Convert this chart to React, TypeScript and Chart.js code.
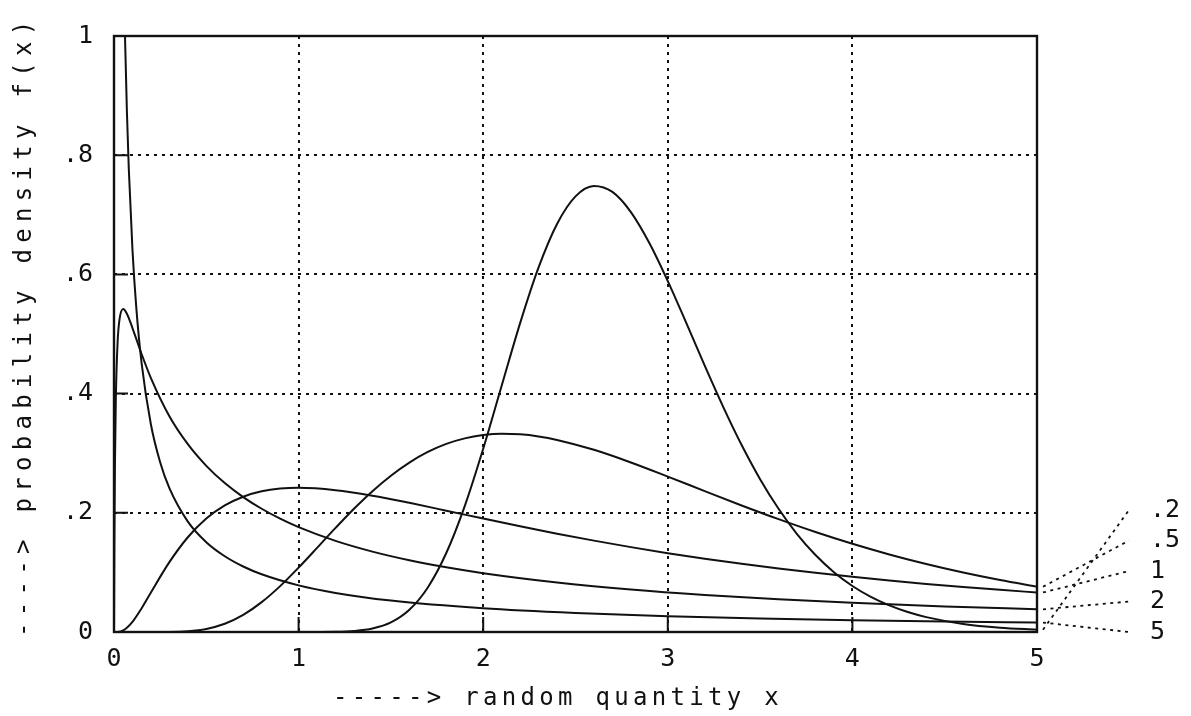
import React, { useEffect, useRef } from "react";
import { Chart, registerables } from "chart.js";

Chart.register(...registerables);

// Right-hand curve labels (shape parameter), top to bottom
const sigmaLabels = [".2", ".5", "1", "2", "5"];

// Curve ".2"
const xA = [0, 1.0, 1.2, 1.3, 1.4, 1.5, 1.6, 1.7, 1.8, 1.9, 2.0, 2.1, 2.2, 2.3, 2.4, 2.5, 2.6, 2.7, 2.8, 2.9, 3.0, 3.1, 3.2, 3.3, 3.4, 3.5, 3.6, 3.7, 3.8, 3.9, 4.0, 4.1, 4.2, 4.3, 4.4, 4.6, 4.8, 5.0];
const yA = [0, 0, 0.0004, 0.0017, 0.0058, 0.016, 0.0372, 0.0747, 0.1325, 0.2113, 0.3074, 0.4131, 0.5183, 0.6118, 0.6847, 0.731, 0.7485, 0.7384, 0.7046, 0.6527, 0.5888, 0.5186, 0.4469, 0.3778, 0.3137, 0.2564, 0.2067, 0.1643, 0.1291, 0.1003, 0.0772, 0.0589, 0.0446, 0.0335, 0.025, 0.0136, 0.0073, 0.0039];

// Curve ".5"
const xB = [0, 0.3, 0.4, 0.5, 0.6, 0.7, 0.8, 0.9, 1.0, 1.1, 1.2, 1.3, 1.4, 1.5, 1.6, 1.7, 1.8, 1.9, 2.0, 2.1, 2.2, 2.3, 2.4, 2.6, 2.8, 3.0, 3.2, 3.4, 3.6, 3.8, 4.0, 4.2, 4.4, 4.6, 4.8, 5.0];
const yB = [0, 0.0002, 0.0013, 0.0052, 0.0138, 0.0287, 0.0501, 0.077, 0.108, 0.1411, 0.1746, 0.2068, 0.2363, 0.2623, 0.2843, 0.3021, 0.3156, 0.3249, 0.3304, 0.3326, 0.3316, 0.3281, 0.3223, 0.3057, 0.2845, 0.2608, 0.2364, 0.2123, 0.1893, 0.1677, 0.148, 0.1301, 0.114, 0.0997, 0.0871, 0.0759];

// Curve "1"
const xC = [0, 0.02, 0.05, 0.1, 0.15, 0.2, 0.3, 0.4, 0.5, 0.6, 0.7, 0.8, 0.9, 1.0, 1.2, 1.4, 1.6, 1.8, 2.0, 2.2, 2.4, 2.6, 2.8, 3.0, 3.2, 3.4, 3.6, 3.8, 4.0, 4.2, 4.4, 4.6, 4.8, 5.0];
const yC = [0, 0.0001, 0.0027, 0.0171, 0.04, 0.0663, 0.1172, 0.159, 0.1903, 0.2124, 0.227, 0.236, 0.2406, 0.242, 0.238, 0.2287, 0.2167, 0.2036, 0.1903, 0.1773, 0.1649, 0.1533, 0.1424, 0.1323, 0.123, 0.1144, 0.1065, 0.0993, 0.0926, 0.0864, 0.0807, 0.0755, 0.0707, 0.0663];

// Curve "2"
const xD = [0, 0.0005, 0.001, 0.002, 0.005, 0.01, 0.02, 0.03, 0.05, 0.07, 0.1, 0.15, 0.2, 0.3, 0.4, 0.5, 0.6, 0.7, 0.8, 0.9, 1.0, 1.2, 1.4, 1.6, 1.8, 2.0, 2.4, 2.8, 3.2, 3.6, 4.0, 4.5, 5.0];
const yD = [0, 0.0385, 0.08, 0.149, 0.28, 0.393, 0.489, 0.525, 0.542, 0.534, 0.51, 0.466, 0.426, 0.362, 0.3151, 0.2788, 0.2499, 0.2264, 0.2068, 0.1902, 0.176, 0.1529, 0.1349, 0.1204, 0.1085, 0.0986, 0.083, 0.0712, 0.0621, 0.0549, 0.0489, 0.0429, 0.0381];

// Curve "5"
const xE = [0, 0.001, 0.01, 0.02, 0.03, 0.04, 0.05, 0.06, 0.07, 0.08, 0.1, 0.12, 0.15, 0.2, 0.25, 0.3, 0.4, 0.5, 0.6, 0.7, 0.8, 1.0, 1.2, 1.5, 2.0, 2.5, 3.0, 3.5, 4.0, 4.5, 5.0];
const yE = [0, 22.9, 4.257, 2.462, 1.772, 1.397, 1.16, 0.994, 0.872, 0.778, 0.6415, 0.5473, 0.4497, 0.3482, 0.2848, 0.2413, 0.1853, 0.1507, 0.1271, 0.1099, 0.0968, 0.0782, 0.0656, 0.0528, 0.0398, 0.0319, 0.0266, 0.0228, 0.0199, 0.0176, 0.0158];

const xTickValues = [0, 1, 2, 3, 4, 5];
const xTickLabels = ["0", "1", "2", "3", "4", "5"];
const yTickValues = [0, 0.2, 0.4, 0.6, 0.8, 1];
const yTickLabels = ["0", ".2", ".4", ".6", ".8", "1"];

const xTitle = "-----> random quantity x";
const yTitle = "----> probability density f(x)";

const INK = "#111111";
const FONT = '"DejaVu Sans Mono", "Liberation Mono", monospace';

const seriesX = [xA, xB, xC, xD, xE];
const seriesY = [yA, yB, yC, yD, yE];

const decor = {
  id: "decor",
  afterDatasetsDraw(chart: any) {
    const { ctx, chartArea: a, scales } = chart;
    const xs = scales.x;
    const ys = scales.y;
    ctx.save();
    ctx.strokeStyle = INK;
    ctx.fillStyle = INK;
    ctx.setLineDash([]);
    ctx.lineWidth = 2.4;
    ctx.strokeRect(a.left, a.top, a.right - a.left, a.bottom - a.top);

    // short solid inner ticks
    ctx.lineWidth = 2;
    ctx.beginPath();
    xTickValues.forEach((v) => {
      const px = xs.getPixelForValue(v);
      ctx.moveTo(px, a.bottom);
      ctx.lineTo(px, a.bottom - 15);
    });
    yTickValues.forEach((v) => {
      const py = ys.getPixelForValue(v);
      ctx.moveTo(a.left, py);
      ctx.lineTo(a.left + 14, py);
    });
    ctx.stroke();

    // leader lines and curve labels
    ctx.font = `25px ${FONT}`;
    ctx.textAlign = "left";
    ctx.textBaseline = "middle";
    chart.data.datasets.forEach((ds: any, i: number) => {
      const last = ds.data[ds.data.length - 1];
      const y0 = ys.getPixelForValue(last.y);
      const ly = a.bottom - (sigmaLabels.length - 1 - i) * 30.5;
      ctx.lineWidth = 1.8;
      ctx.setLineDash([3, 4.5]);
      ctx.beginPath();
      ctx.moveTo(a.right + 6, y0);
      ctx.lineTo(a.right + 92, ly);
      ctx.stroke();
      ctx.setLineDash([]);
      ctx.fillText(sigmaLabels[i], a.right + 113, ly);
    });

    // axis titles
    ctx.font = `24px ${FONT}`;
    (ctx as any).letterSpacing = "4.3px";
    ctx.textAlign = "left";
    ctx.textBaseline = "middle";
    ctx.fillText(xTitle, a.left + 219, a.bottom + 67);

    ctx.save();
    (ctx as any).letterSpacing = "6.3px";
    ctx.translate(25, a.bottom + 5);
    ctx.rotate(-Math.PI / 2);
    ctx.fillText(yTitle, 0, 0);
    ctx.restore();

    ctx.restore();
  },
};

export default function App() {
  const ref = useRef<HTMLCanvasElement | null>(null);

  useEffect(() => {
    if (!ref.current) return;
    const datasets = seriesX.map((xsArr, i) => ({
      label: sigmaLabels[i],
      data: xsArr.map((x, j) => ({ x, y: seriesY[i][j] })),
      borderColor: INK,
      borderWidth: 2,
      pointRadius: 0,
      fill: false,
      showLine: true,
      cubicInterpolationMode: "monotone" as const,
    }));

    const chart = new Chart(ref.current, {
      type: "line",
      data: { datasets },
      plugins: [decor],
      options: {
        animation: false,
        responsive: false,
        maintainAspectRatio: false,
        layout: { padding: { top: 23, right: 154, left: 0, bottom: 0 } },
        plugins: {
          legend: { display: false },
          tooltip: { enabled: false },
        },
        scales: {
          x: {
            type: "linear",
            min: 0,
            max: 5,
            afterBuildTicks: (scale: any) => {
              scale.ticks = xTickValues.map((v) => ({ value: v }));
            },
            afterFit: (scale: any) => {
              scale.height = 84;
            },
            ticks: {
              color: INK,
              font: { family: FONT, size: 25 },
              padding: 12,
              maxRotation: 0,
              callback: (_v: any, idx: number) => xTickLabels[idx],
            },
            grid: {
              color: INK,
              lineWidth: 2,
              drawTicks: false,
            },
            border: { display: false, dash: [3, 5] },
          },
          y: {
            type: "linear",
            min: 0,
            max: 1,
            afterBuildTicks: (scale: any) => {
              scale.ticks = yTickValues.map((v) => ({ value: v }));
            },
            afterFit: (scale: any) => {
              scale.width = 114;
            },
            ticks: {
              color: INK,
              font: { family: FONT, size: 25 },
              padding: 21,
              callback: (_v: any, idx: number) => yTickLabels[idx],
            },
            grid: {
              color: INK,
              lineWidth: 2,
              drawTicks: false,
            },
            border: { display: false, dash: [3, 5] },
          },
        },
      },
    });
    return () => chart.destroy();
  }, []);

  return (
    <div style={{ position: "fixed", left: 0, top: 0, width: 1191, height: 716, background: "#fff" }}>
      <canvas ref={ref} width={1191} height={716} style={{ display: "block" }} />
    </div>
  );
}
